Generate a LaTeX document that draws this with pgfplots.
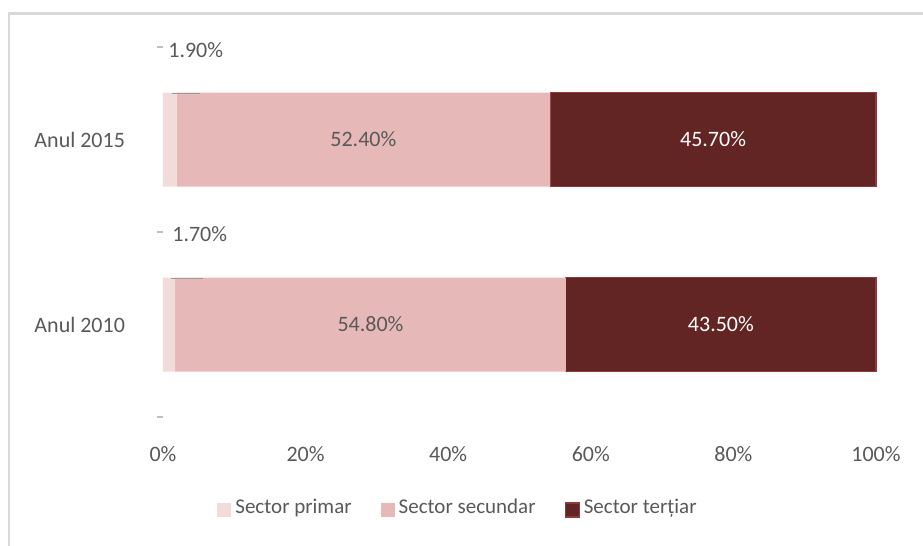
\documentclass[border=0pt]{standalone}
\usepackage{pgfplots}
\pgfplotsset{compat=1.18}
\usepackage{fontspec}
\setmainfont{Carlito}
\definecolor{primar}{HTML}{F2DCDB}
\definecolor{secundar}{HTML}{E6B9B8}
\definecolor{tertiar}{HTML}{632523}
\definecolor{tertiaredge}{HTML}{8C3B3A}
\definecolor{txt}{HTML}{595959}
\definecolor{framec}{HTML}{D9D9D9}
\newcommand{\lf}{\fontsize{11}{13}\selectfont}
\newcommand{\legf}{\fontsize{10.5}{12.5}\selectfont}
\begin{document}
\begin{tikzpicture}
\useasboundingbox (0,0) rectangle (461.5pt,-273pt);
\clip (0,0) rectangle (461.5pt,-273pt);
\draw[framec, line width=1.2pt] (4.5pt,-6.8pt) rectangle (470pt,-290pt);
\begin{axis}[
  at={(81.5pt,-208.5pt)}, anchor=south west,
  scale only axis, width=356.5pt, height=185pt,
  xbar stacked, bar width=47pt,
  xmin=0, xmax=100, ymin=-0.5, ymax=1.5,
  clip=false,
  xtick={0,20,...,100},
  xticklabels={0\%,20\%,40\%,60\%,80\%,100\%},
  ytick={0,1}, yticklabels={Anul 2010, Anul 2015},
  minor ytick={-0.5,0.5,1.5},
  xtick pos=bottom, ytick pos=left,
  axis line style={draw=none},
  major tick length=0pt, minor tick length=3pt, tick align=outside,
  minor tick style={draw=black!25, line width=0.6pt},
  tick label style={font=\lf, text=txt},
  xticklabel style={yshift=-11pt},
  yticklabel style={xshift=-15.5pt},
  legend style={at={(0.0673,-0.246)}, anchor=west, draw=none, fill=none,
    legend columns=3, font=\legf, text=txt,
    /tikz/every even column/.append style={column sep=12.5pt}},
  legend image code/.code={\path[#1] (0pt,-4.5pt) rectangle (7pt,2.5pt);},
  after end axis/.append code={
    \node[text=txt, font=\lf] at (axis cs:28.1,1) {52.40\%};
    \node[text=white, font=\lf] at (axis cs:77.15,1) {45.70\%};
    \node[text=txt, font=\lf] at (axis cs:29.1,0) {54.80\%};
    \node[text=white, font=\lf] at (axis cs:78.25,0) {43.50\%};
    \node[text=txt, anchor=west, inner sep=0pt, font=\lf] at (axis cs:0.7,1.484) {1.90\%};
    \node[text=txt, anchor=west, inner sep=0pt, font=\lf] at (axis cs:1.26,0.489) {1.70\%};
    \draw[black!40, line width=0.7pt] (axis cs:1.26,1.25) -- (axis cs:5.2,1.25);
    \draw[black!40, line width=0.7pt] (axis cs:1.12,0.25) -- (axis cs:5.6,0.25);
  },
]
\addplot[fill=primar, draw=none] coordinates {(1.7,0) (1.9,1)};
\addplot[fill=secundar, draw=none] coordinates {(54.8,0) (52.4,1)};
\addplot[fill=tertiar, draw=tertiaredge, line width=0.6pt] coordinates {(43.5,0) (45.7,1)};
\legend{Sector primar, Sector secundar, Sector terțiar}
\end{axis}
\end{tikzpicture}
\end{document}
